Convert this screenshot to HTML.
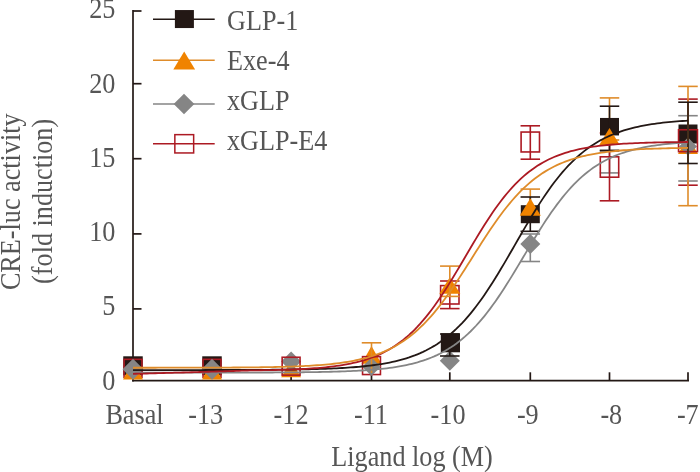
<!DOCTYPE html>
<html><head><meta charset="utf-8"><style>
html,body{margin:0;padding:0;background:#fff;width:700px;height:472px;overflow:hidden}
svg{display:block}
text{font-family:"Liberation Serif",serif;font-size:26.2px;fill:#565656}
</style></head><body>
<svg width="700" height="472" viewBox="0 0 700 472">
<line x1="133" y1="10" x2="133" y2="381.5" stroke="#231815" stroke-width="1.7"/>
<line x1="133" y1="11" x2="141.5" y2="11" stroke="#231815" stroke-width="1.7"/>
<line x1="133" y1="83.7" x2="141.5" y2="83.7" stroke="#231815" stroke-width="1.7"/>
<line x1="133" y1="158.7" x2="141.5" y2="158.7" stroke="#231815" stroke-width="1.7"/>
<line x1="133" y1="233.9" x2="141.5" y2="233.9" stroke="#231815" stroke-width="1.7"/>
<line x1="133" y1="308.9" x2="141.5" y2="308.9" stroke="#231815" stroke-width="1.7"/>
<line x1="132.2" y1="380.7" x2="689" y2="380.7" stroke="#231815" stroke-width="1.7"/>
<line x1="291.1" y1="372.3" x2="291.1" y2="380.7" stroke="#231815" stroke-width="1.7"/>
<line x1="371.5" y1="372.3" x2="371.5" y2="380.7" stroke="#231815" stroke-width="1.7"/>
<line x1="449.8" y1="372.3" x2="449.8" y2="380.7" stroke="#231815" stroke-width="1.7"/>
<line x1="530.3" y1="372.3" x2="530.3" y2="380.7" stroke="#231815" stroke-width="1.7"/>
<line x1="609.5" y1="372.3" x2="609.5" y2="380.7" stroke="#231815" stroke-width="1.7"/>
<line x1="688" y1="372.3" x2="688" y2="380.7" stroke="#231815" stroke-width="1.7"/>
<rect x="123.25" y="356.3" width="19.5" height="19" fill="#231815"/>
<rect x="124.05" y="359.35" width="17.9" height="17.9" fill="none" stroke="#AC1A23" stroke-width="1.6"/>
<polygon points="133,361 123.0,379.6 143.0,379.6" fill="#F08300"/>
<polygon points="133,358.8 143.5,369.3 133,379.8 122.5,369.3" fill="#858585"/>
<rect x="202.25" y="356.3" width="19.5" height="19" fill="#231815"/>
<rect x="203.05" y="359.35" width="17.9" height="17.9" fill="none" stroke="#AC1A23" stroke-width="1.6"/>
<polygon points="212,361 202.0,379.6 222.0,379.6" fill="#F08300"/>
<polygon points="212,358.8 222.5,369.3 212,379.8 201.5,369.3" fill="#858585"/>
<polygon points="291.1,361 281.1,377.2 301.1,377.2" fill="#F08300"/>
<polygon points="291.1,351.6 301.1,361.6 291.1,371.6 281.1,361.6" fill="#858585"/>
<rect x="282.15000000000003" y="357.25" width="17.9" height="17.9" fill="none" stroke="#AC1A23" stroke-width="1.6"/>
<polygon points="371.5,346 361.5,363.8 381.5,363.8" fill="#F08300"/>
<rect x="362.55" y="356.65000000000003" width="17.9" height="17.9" fill="none" stroke="#AC1A23" stroke-width="1.6"/>
<polygon points="371.5,357.5 380.8,366.8 371.5,376.1 362.2,366.8" fill="#858585"/>
<line x1="371.5" y1="342.8" x2="371.5" y2="373" stroke="#DF8C2A" stroke-width="1.6"/>
<line x1="361.75" y1="342.8" x2="381.25" y2="342.8" stroke="#DF8C2A" stroke-width="1.6"/>
<polygon points="449.8,350.7 459.8,360.7 449.8,370.7 439.8,360.7" fill="#858585"/>
<rect x="440.8" y="333.3" width="19.2" height="19" fill="#231815"/>
<line x1="449.8" y1="334" x2="449.8" y2="356" stroke="#231815" stroke-width="1.6"/>
<line x1="440.05" y1="334" x2="459.55" y2="334" stroke="#231815" stroke-width="1.6"/>
<line x1="440.05" y1="356" x2="459.55" y2="356" stroke="#231815" stroke-width="1.6"/>
<rect x="440.6" y="285.6" width="18.4" height="18.4" fill="none" stroke="#AC1A23" stroke-width="1.6"/>
<line x1="449.8" y1="281" x2="449.8" y2="308.6" stroke="#AC1A23" stroke-width="1.6"/>
<line x1="440.05" y1="281" x2="459.55" y2="281" stroke="#AC1A23" stroke-width="1.6"/>
<line x1="440.05" y1="308.6" x2="459.55" y2="308.6" stroke="#AC1A23" stroke-width="1.6"/>
<polygon points="449.8,277.2 439.3,293.7 460.3,293.7" fill="#F08300"/>
<line x1="449.8" y1="266.1" x2="449.8" y2="296.4" stroke="#DF8C2A" stroke-width="1.6"/>
<line x1="440.05" y1="266.1" x2="459.55" y2="266.1" stroke="#DF8C2A" stroke-width="1.6"/>
<line x1="440.05" y1="296.4" x2="459.55" y2="296.4" stroke="#DF8C2A" stroke-width="1.6"/>
<rect x="521.0999999999999" y="132.05" width="18.4" height="19.9" fill="none" stroke="#AC1A23" stroke-width="1.6"/>
<line x1="530.3" y1="125.8" x2="530.3" y2="159.2" stroke="#AC1A23" stroke-width="1.6"/>
<line x1="520.55" y1="125.8" x2="540.05" y2="125.8" stroke="#AC1A23" stroke-width="1.6"/>
<line x1="520.55" y1="159.2" x2="540.05" y2="159.2" stroke="#AC1A23" stroke-width="1.6"/>
<line x1="530.3" y1="234" x2="530.3" y2="261.5" stroke="#858585" stroke-width="1.6"/>
<line x1="520.55" y1="234" x2="540.05" y2="234" stroke="#858585" stroke-width="1.6"/>
<line x1="520.55" y1="261.5" x2="540.05" y2="261.5" stroke="#858585" stroke-width="1.6"/>
<polygon points="530.3,234.1 540.3,244.1 530.3,254.1 520.3,244.1" fill="#858585"/>
<line x1="530.3" y1="189.1" x2="530.3" y2="214" stroke="#DF8C2A" stroke-width="1.6"/>
<line x1="520.55" y1="189.1" x2="540.05" y2="189.1" stroke="#DF8C2A" stroke-width="1.6"/>
<line x1="520.55" y1="214" x2="540.05" y2="214" stroke="#DF8C2A" stroke-width="1.6"/>
<rect x="520.8" y="205.2" width="19" height="18" fill="#231815"/>
<line x1="530.3" y1="197" x2="530.3" y2="231.3" stroke="#231815" stroke-width="1.6"/>
<line x1="520.55" y1="197" x2="540.05" y2="197" stroke="#231815" stroke-width="1.6"/>
<line x1="520.55" y1="231.3" x2="540.05" y2="231.3" stroke="#231815" stroke-width="1.6"/>
<polygon points="530.3,198.3 519.8,215.7 540.8,215.7" fill="#F08300"/>
<line x1="609.5" y1="150" x2="609.5" y2="172.9" stroke="#858585" stroke-width="1.6"/>
<line x1="599.75" y1="150" x2="619.25" y2="150" stroke="#858585" stroke-width="1.6"/>
<line x1="599.75" y1="172.9" x2="619.25" y2="172.9" stroke="#858585" stroke-width="1.6"/>
<rect x="600.3" y="156.8" width="18.4" height="20.4" fill="none" stroke="#AC1A23" stroke-width="1.6"/>
<line x1="609.5" y1="133" x2="609.5" y2="200.8" stroke="#AC1A23" stroke-width="1.6"/>
<line x1="599.75" y1="133" x2="619.25" y2="133" stroke="#AC1A23" stroke-width="1.6"/>
<line x1="599.75" y1="200.8" x2="619.25" y2="200.8" stroke="#AC1A23" stroke-width="1.6"/>
<line x1="609.5" y1="97.9" x2="609.5" y2="140" stroke="#DF8C2A" stroke-width="1.6"/>
<line x1="599.75" y1="97.9" x2="619.25" y2="97.9" stroke="#DF8C2A" stroke-width="1.6"/>
<line x1="599.75" y1="140" x2="619.25" y2="140" stroke="#DF8C2A" stroke-width="1.6"/>
<rect x="600.0" y="117.95" width="19" height="17.5" fill="#231815"/>
<line x1="609.5" y1="106.2" x2="609.5" y2="150.8" stroke="#231815" stroke-width="1.6"/>
<line x1="599.75" y1="106.2" x2="619.25" y2="106.2" stroke="#231815" stroke-width="1.6"/>
<line x1="599.75" y1="150.8" x2="619.25" y2="150.8" stroke="#231815" stroke-width="1.6"/>
<polygon points="609.5,128 599.25,145 619.75,145" fill="#F08300"/>
<rect x="678.5" y="124.5" width="19" height="19" fill="#231815"/>
<polygon points="688,137 678.0,154 698.0,154" fill="#F08300"/>
<polygon points="688,137.5 697,146.5 688,155.5 679,146.5" fill="#858585"/>
<rect x="678.55" y="129.75" width="18.9" height="21.9" fill="none" stroke="#AC1A23" stroke-width="1.6"/>
<line x1="688" y1="99.1" x2="688" y2="185.2" stroke="#AC1A23" stroke-width="1.6"/>
<line x1="678.25" y1="99.1" x2="697.75" y2="99.1" stroke="#AC1A23" stroke-width="1.6"/>
<line x1="678.25" y1="185.2" x2="697.75" y2="185.2" stroke="#AC1A23" stroke-width="1.6"/>
<line x1="688" y1="115.7" x2="688" y2="181" stroke="#858585" stroke-width="1.6"/>
<line x1="678.25" y1="115.7" x2="697.75" y2="115.7" stroke="#858585" stroke-width="1.6"/>
<line x1="678.25" y1="181" x2="697.75" y2="181" stroke="#858585" stroke-width="1.6"/>
<line x1="688" y1="86.4" x2="688" y2="205.7" stroke="#DF8C2A" stroke-width="1.6"/>
<line x1="678.25" y1="86.4" x2="697.75" y2="86.4" stroke="#DF8C2A" stroke-width="1.6"/>
<line x1="678.25" y1="205.7" x2="697.75" y2="205.7" stroke="#DF8C2A" stroke-width="1.6"/>
<line x1="688" y1="102.2" x2="688" y2="163.5" stroke="#231815" stroke-width="1.6"/>
<line x1="678.25" y1="102.2" x2="697.75" y2="102.2" stroke="#231815" stroke-width="1.6"/>
<line x1="678.25" y1="163.5" x2="697.75" y2="163.5" stroke="#231815" stroke-width="1.6"/>
<path d="M133.00,372.64 L135.79,372.64 L138.58,372.64 L141.37,372.64 L144.16,372.64 L146.94,372.64 L149.73,372.64 L152.52,372.64 L155.31,372.64 L158.10,372.64 L160.89,372.64 L163.68,372.64 L166.47,372.64 L169.26,372.64 L172.05,372.64 L174.83,372.64 L177.62,372.64 L180.41,372.64 L183.20,372.64 L185.99,372.63 L188.78,372.63 L191.57,372.63 L194.36,372.63 L197.15,372.63 L199.93,372.63 L202.72,372.63 L205.51,372.62 L208.30,372.62 L211.09,372.62 L213.88,372.62 L216.67,372.61 L219.46,372.61 L222.25,372.61 L225.04,372.61 L227.82,372.60 L230.61,372.60 L233.40,372.59 L236.19,372.59 L238.98,372.59 L241.77,372.58 L244.56,372.57 L247.35,372.57 L250.14,372.56 L252.92,372.55 L255.71,372.55 L258.50,372.54 L261.29,372.53 L264.08,372.52 L266.87,372.51 L269.66,372.50 L272.45,372.48 L275.24,372.47 L278.03,372.46 L280.81,372.44 L283.60,372.42 L286.39,372.40 L289.18,372.38 L291.97,372.36 L294.76,372.34 L297.55,372.31 L300.34,372.28 L303.13,372.25 L305.91,372.22 L308.70,372.18 L311.49,372.14 L314.28,372.10 L317.07,372.05 L319.86,372.00 L322.65,371.95 L325.44,371.89 L328.23,371.83 L331.02,371.76 L333.80,371.69 L336.59,371.61 L339.38,371.52 L342.17,371.42 L344.96,371.32 L347.75,371.21 L350.54,371.09 L353.33,370.96 L356.12,370.82 L358.90,370.67 L361.69,370.51 L364.48,370.33 L367.27,370.14 L370.06,369.93 L372.85,369.70 L375.64,369.46 L378.43,369.20 L381.22,368.91 L384.01,368.60 L386.79,368.27 L389.58,367.91 L392.37,367.52 L395.16,367.10 L397.95,366.65 L400.74,366.16 L403.53,365.63 L406.32,365.06 L409.11,364.45 L411.89,363.79 L414.68,363.07 L417.47,362.31 L420.26,361.48 L423.05,360.59 L425.84,359.64 L428.63,358.61 L431.42,357.51 L434.21,356.33 L436.99,355.07 L439.78,353.71 L442.57,352.26 L445.36,350.71 L448.15,349.06 L450.94,347.30 L453.73,345.42 L456.52,343.42 L459.31,341.30 L462.10,339.05 L464.88,336.67 L467.67,334.15 L470.46,331.50 L473.25,328.70 L476.04,325.76 L478.83,322.67 L481.62,319.44 L484.41,316.06 L487.20,312.54 L489.98,308.88 L492.77,305.09 L495.56,301.16 L498.35,297.12 L501.14,292.96 L503.93,288.69 L506.72,284.32 L509.51,279.87 L512.30,275.35 L515.09,270.77 L517.87,266.14 L520.66,261.48 L523.45,256.80 L526.24,252.13 L529.03,247.47 L531.82,242.83 L534.61,238.24 L537.40,233.71 L540.19,229.25 L542.97,224.87 L545.76,220.59 L548.55,216.42 L551.34,212.35 L554.13,208.41 L556.92,204.60 L559.71,200.93 L562.50,197.39 L565.29,194.00 L568.08,190.74 L570.86,187.64 L573.65,184.68 L576.44,181.86 L579.23,179.18 L582.02,176.65 L584.81,174.25 L587.60,171.98 L590.39,169.85 L593.18,167.83 L595.96,165.94 L598.75,164.16 L601.54,162.50 L604.33,160.94 L607.12,159.47 L609.91,158.11 L612.70,156.83 L615.49,155.64 L618.28,154.53 L621.07,153.49 L623.85,152.53 L626.64,151.63 L629.43,150.80 L632.22,150.03 L635.01,149.31 L637.80,148.64 L640.59,148.02 L643.38,147.44 L646.17,146.91 L648.95,146.42 L651.74,145.96 L654.53,145.54 L657.32,145.14 L660.11,144.78 L662.90,144.44 L665.69,144.13 L668.48,143.84 L671.27,143.58 L674.06,143.33 L676.84,143.10 L679.63,142.89 L682.42,142.70 L685.21,142.52 L688.00,142.35" fill="none" stroke="#858585" stroke-width="1.8"/>
<path d="M133.00,370.06 L135.79,370.06 L138.58,370.06 L141.37,370.06 L144.16,370.06 L146.94,370.06 L149.73,370.06 L152.52,370.06 L155.31,370.06 L158.10,370.06 L160.89,370.06 L163.68,370.05 L166.47,370.05 L169.26,370.05 L172.05,370.05 L174.83,370.05 L177.62,370.05 L180.41,370.05 L183.20,370.04 L185.99,370.04 L188.78,370.04 L191.57,370.04 L194.36,370.03 L197.15,370.03 L199.93,370.03 L202.72,370.03 L205.51,370.02 L208.30,370.02 L211.09,370.01 L213.88,370.01 L216.67,370.00 L219.46,370.00 L222.25,369.99 L225.04,369.99 L227.82,369.98 L230.61,369.97 L233.40,369.97 L236.19,369.96 L238.98,369.95 L241.77,369.94 L244.56,369.93 L247.35,369.92 L250.14,369.91 L252.92,369.89 L255.71,369.88 L258.50,369.86 L261.29,369.85 L264.08,369.83 L266.87,369.81 L269.66,369.79 L272.45,369.76 L275.24,369.74 L278.03,369.71 L280.81,369.69 L283.60,369.66 L286.39,369.62 L289.18,369.59 L291.97,369.55 L294.76,369.51 L297.55,369.46 L300.34,369.41 L303.13,369.36 L305.91,369.30 L308.70,369.24 L311.49,369.17 L314.28,369.10 L317.07,369.03 L319.86,368.94 L322.65,368.85 L325.44,368.76 L328.23,368.65 L331.02,368.54 L333.80,368.42 L336.59,368.28 L339.38,368.14 L342.17,367.99 L344.96,367.82 L347.75,367.64 L350.54,367.45 L353.33,367.25 L356.12,367.02 L358.90,366.78 L361.69,366.52 L364.48,366.24 L367.27,365.94 L370.06,365.61 L372.85,365.26 L375.64,364.88 L378.43,364.48 L381.22,364.04 L384.01,363.57 L386.79,363.06 L389.58,362.52 L392.37,361.93 L395.16,361.30 L397.95,360.63 L400.74,359.90 L403.53,359.12 L406.32,358.28 L409.11,357.39 L411.89,356.43 L414.68,355.40 L417.47,354.29 L420.26,353.11 L423.05,351.85 L425.84,350.51 L428.63,349.07 L431.42,347.54 L434.21,345.90 L436.99,344.16 L439.78,342.32 L442.57,340.35 L445.36,338.27 L448.15,336.07 L450.94,333.74 L453.73,331.27 L456.52,328.68 L459.31,325.94 L462.10,323.06 L464.88,320.04 L467.67,316.88 L470.46,313.58 L473.25,310.13 L476.04,306.53 L478.83,302.80 L481.62,298.94 L484.41,294.94 L487.20,290.81 L489.98,286.57 L492.77,282.21 L495.56,277.75 L498.35,273.20 L501.14,268.57 L503.93,263.87 L506.72,259.11 L509.51,254.31 L512.30,249.48 L515.09,244.64 L517.87,239.79 L520.66,234.96 L523.45,230.15 L526.24,225.39 L529.03,220.68 L531.82,216.03 L534.61,211.47 L537.40,207.00 L540.19,202.63 L542.97,198.37 L545.76,194.23 L548.55,190.22 L551.34,186.33 L554.13,182.58 L556.92,178.97 L559.71,175.50 L562.50,172.18 L565.29,169.00 L568.08,165.96 L570.86,163.06 L573.65,160.31 L576.44,157.69 L579.23,155.21 L582.02,152.86 L584.81,150.64 L587.60,148.54 L590.39,146.57 L593.18,144.70 L595.96,142.95 L598.75,141.30 L601.54,139.76 L604.33,138.31 L607.12,136.95 L609.91,135.68 L612.70,134.49 L615.49,133.38 L618.28,132.34 L621.07,131.37 L623.85,130.46 L626.64,129.62 L629.43,128.83 L632.22,128.10 L635.01,127.41 L637.80,126.78 L640.59,126.19 L643.38,125.64 L646.17,125.12 L648.95,124.65 L651.74,124.21 L654.53,123.80 L657.32,123.42 L660.11,123.06 L662.90,122.73 L665.69,122.43 L668.48,122.14 L671.27,121.88 L674.06,121.64 L676.84,121.41 L679.63,121.20 L682.42,121.01 L685.21,120.83 L688.00,120.66" fill="none" stroke="#231815" stroke-width="1.8"/>
<path d="M133.00,373.85 L135.79,373.77 L138.58,373.70 L141.37,373.63 L144.16,373.55 L146.94,373.48 L149.73,373.40 L152.52,373.33 L155.31,373.25 L158.10,373.17 L160.89,373.10 L163.68,373.02 L166.47,372.95 L169.26,372.87 L172.05,372.79 L174.83,372.72 L177.62,372.64 L180.41,372.56 L183.20,372.49 L185.99,372.41 L188.78,372.33 L191.57,372.25 L194.36,372.17 L197.15,372.09 L199.93,372.01 L202.72,371.93 L205.51,371.85 L208.30,371.77 L211.09,371.68 L213.88,371.60 L216.67,371.52 L219.46,371.43 L222.25,371.34 L225.04,371.26 L227.82,371.17 L230.61,371.08 L233.40,370.99 L236.19,370.89 L238.98,370.80 L241.77,370.70 L244.56,370.60 L247.35,370.50 L250.14,370.40 L252.92,370.37 L255.71,370.33 L258.50,370.30 L261.29,370.26 L264.08,370.21 L266.87,370.16 L269.66,370.11 L272.45,370.05 L275.24,369.99 L278.03,369.92 L280.81,369.85 L283.60,369.77 L286.39,369.68 L289.18,369.58 L291.97,369.48 L294.76,369.37 L297.55,369.25 L300.34,369.12 L303.13,368.98 L305.91,368.82 L308.70,368.65 L311.49,368.47 L314.28,368.27 L317.07,368.06 L319.86,367.83 L322.65,367.58 L325.44,367.30 L328.23,367.01 L331.02,366.69 L333.80,366.34 L336.59,365.96 L339.38,365.56 L342.17,365.12 L344.96,364.64 L347.75,364.12 L350.54,363.57 L353.33,362.96 L356.12,362.31 L358.90,361.61 L361.69,360.85 L364.48,360.03 L367.27,359.15 L370.06,358.19 L372.85,357.17 L375.64,356.07 L378.43,354.88 L381.22,353.61 L384.01,352.24 L386.79,350.78 L389.58,349.21 L392.37,347.53 L395.16,345.74 L397.95,343.82 L400.74,341.79 L403.53,339.62 L406.32,337.31 L409.11,334.87 L411.89,332.28 L414.68,329.55 L417.47,326.67 L420.26,323.63 L423.05,320.45 L425.84,317.11 L428.63,313.62 L431.42,309.99 L434.21,306.21 L436.99,302.29 L439.78,298.24 L442.57,294.06 L445.36,289.77 L448.15,285.37 L450.94,280.87 L453.73,276.30 L456.52,271.66 L459.31,266.96 L462.10,262.23 L464.88,257.48 L467.67,252.73 L470.46,247.98 L473.25,243.27 L476.04,238.60 L478.83,233.99 L481.62,229.45 L484.41,225.00 L487.20,220.65 L489.98,216.41 L492.77,212.29 L495.56,208.30 L498.35,204.44 L501.14,200.73 L503.93,197.17 L506.72,193.75 L509.51,190.48 L512.30,187.37 L515.09,184.41 L517.87,181.60 L520.66,178.93 L523.45,176.42 L526.24,174.04 L529.03,171.80 L531.82,169.69 L534.61,167.71 L537.40,165.86 L540.19,164.12 L542.97,162.49 L545.76,160.98 L548.55,159.56 L551.34,158.24 L554.13,157.01 L556.92,155.86 L559.71,154.79 L562.50,153.81 L565.29,152.89 L568.08,152.03 L570.86,151.24 L573.65,150.51 L576.44,149.83 L579.23,149.20 L582.02,148.62 L584.81,148.08 L587.60,147.59 L590.39,147.13 L593.18,146.70 L595.96,146.31 L598.75,145.95 L601.54,145.62 L604.33,145.31 L607.12,145.02 L609.91,144.76 L612.70,144.52 L615.49,144.29 L618.28,144.09 L621.07,143.90 L623.85,143.72 L626.64,143.56 L629.43,143.41 L632.22,143.28 L635.01,143.15 L637.80,143.03 L640.59,142.93 L643.38,142.83 L646.17,142.74 L648.95,142.65 L651.74,142.58 L654.53,142.50 L657.32,142.44 L660.11,142.38 L662.90,142.32 L665.69,142.27 L668.48,142.23 L671.27,142.18 L674.06,142.14 L676.84,142.11 L679.63,142.07 L682.42,142.04 L685.21,142.01 L688.00,141.99" fill="none" stroke="#AC1A23" stroke-width="1.8"/>
<path d="M133.00,367.74 L135.79,367.74 L138.58,367.73 L141.37,367.73 L144.16,367.73 L146.94,367.73 L149.73,367.73 L152.52,367.73 L155.31,367.73 L158.10,367.72 L160.89,367.72 L163.68,367.72 L166.47,367.72 L169.26,367.71 L172.05,367.71 L174.83,367.71 L177.62,367.70 L180.41,367.70 L183.20,367.70 L185.99,367.69 L188.78,367.69 L191.57,367.68 L194.36,367.68 L197.15,367.67 L199.93,367.66 L202.72,367.66 L205.51,367.65 L208.30,367.64 L211.09,367.63 L213.88,367.62 L216.67,367.61 L219.46,367.60 L222.25,367.59 L225.04,367.57 L227.82,367.56 L230.61,367.54 L233.40,367.52 L236.19,367.50 L238.98,367.48 L241.77,367.46 L244.56,367.44 L247.35,367.41 L250.14,367.38 L252.92,367.35 L255.71,367.32 L258.50,367.28 L261.29,367.24 L264.08,367.20 L266.87,367.16 L269.66,367.11 L272.45,367.05 L275.24,367.00 L278.03,366.93 L280.81,366.87 L283.60,366.79 L286.39,366.71 L289.18,366.63 L291.97,366.53 L294.76,366.43 L297.55,366.32 L300.34,366.20 L303.13,366.08 L305.91,365.94 L308.70,365.79 L311.49,365.62 L314.28,365.45 L317.07,365.26 L319.86,365.05 L322.65,364.83 L325.44,364.59 L328.23,364.33 L331.02,364.04 L333.80,363.74 L336.59,363.41 L339.38,363.06 L342.17,362.67 L344.96,362.26 L347.75,361.81 L350.54,361.33 L353.33,360.81 L356.12,360.25 L358.90,359.64 L361.69,358.99 L364.48,358.29 L367.27,357.54 L370.06,356.72 L372.85,355.85 L375.64,354.91 L378.43,353.91 L381.22,352.83 L384.01,351.67 L386.79,350.43 L389.58,349.11 L392.37,347.69 L395.16,346.17 L397.95,344.56 L400.74,342.84 L403.53,341.01 L406.32,339.06 L409.11,336.99 L411.89,334.81 L414.68,332.49 L417.47,330.05 L420.26,327.47 L423.05,324.76 L425.84,321.91 L428.63,318.92 L431.42,315.80 L434.21,312.54 L436.99,309.15 L439.78,305.63 L442.57,301.99 L445.36,298.22 L448.15,294.34 L450.94,290.36 L453.73,286.28 L456.52,282.11 L459.31,277.87 L462.10,273.57 L464.88,269.21 L467.67,264.82 L470.46,260.40 L473.25,255.98 L476.04,251.56 L478.83,247.16 L481.62,242.80 L484.41,238.48 L487.20,234.22 L489.98,230.03 L492.77,225.93 L495.56,221.92 L498.35,218.01 L501.14,214.22 L503.93,210.54 L506.72,206.99 L509.51,203.56 L512.30,200.27 L515.09,197.12 L517.87,194.10 L520.66,191.21 L523.45,188.46 L526.24,185.85 L529.03,183.37 L531.82,181.03 L534.61,178.80 L537.40,176.71 L540.19,174.73 L542.97,172.87 L545.76,171.12 L548.55,169.48 L551.34,167.94 L554.13,166.50 L556.92,165.15 L559.71,163.89 L562.50,162.71 L565.29,161.61 L568.08,160.59 L570.86,159.63 L573.65,158.74 L576.44,157.92 L579.23,157.15 L582.02,156.43 L584.81,155.77 L587.60,155.15 L590.39,154.58 L593.18,154.05 L595.96,153.56 L598.75,153.10 L601.54,152.68 L604.33,152.29 L607.12,151.93 L609.91,151.59 L612.70,151.28 L615.49,150.99 L618.28,150.73 L621.07,150.48 L623.85,150.25 L626.64,150.04 L629.43,149.85 L632.22,149.67 L635.01,149.50 L637.80,149.35 L640.59,149.21 L643.38,149.08 L646.17,148.96 L648.95,148.85 L651.74,148.74 L654.53,148.65 L657.32,148.56 L660.11,148.48 L662.90,148.40 L665.69,148.33 L668.48,148.27 L671.27,148.21 L674.06,148.16 L676.84,148.10 L679.63,148.06 L682.42,148.02 L685.21,147.98 L688.00,147.94" fill="none" stroke="#DF8C2A" stroke-width="1.8"/>
<line x1="153" y1="19.2" x2="214.7" y2="19.2" stroke="#231815" stroke-width="1.6"/>
<rect x="174.9" y="10.05" width="19" height="18" fill="#231815"/>
<line x1="153" y1="60.3" x2="214.7" y2="60.3" stroke="#DF8C2A" stroke-width="1.6"/>
<polygon points="184.2,51.4 173.29999999999998,69.5 195.1,69.5" fill="#F08300"/>
<line x1="153" y1="104" x2="214.7" y2="104" stroke="#858585" stroke-width="1.6"/>
<polygon points="184,93.7 194.3,104 184,114.3 173.7,104" fill="#858585"/>
<line x1="153" y1="143.8" x2="214.7" y2="143.8" stroke="#AC1A23" stroke-width="1.6"/>
<rect x="174.85" y="134.65" width="18.8" height="18.3" fill="none" stroke="#AC1A23" stroke-width="1.5"/>
<g style="will-change:transform">
<text transform="translate(227,29.8) scale(1,1.09)" text-anchor="start">GLP-1</text>
<text transform="translate(227,69.5) scale(1,1.09)" text-anchor="start">Exe-4</text>
<text transform="translate(227,109.5) scale(1,1.09)" text-anchor="start">xGLP</text>
<text transform="translate(227,149.5) scale(1,1.09)" text-anchor="start">xGLP-E4</text>
<text transform="translate(115.4,18.4) scale(1,1.09)" text-anchor="end">25</text>
<text transform="translate(115.4,92.5) scale(1,1.09)" text-anchor="end">20</text>
<text transform="translate(115.4,166.7) scale(1,1.09)" text-anchor="end">15</text>
<text transform="translate(115.4,241.4) scale(1,1.09)" text-anchor="end">10</text>
<text transform="translate(115.4,315.2) scale(1,1.09)" text-anchor="end">5</text>
<text transform="translate(115.4,389.7) scale(1,1.09)" text-anchor="end">0</text>
<text transform="translate(105.4,423.6) scale(1,1.09)" text-anchor="start">Basal</text>
<text transform="translate(188.2,423.7) scale(1,1.09)" text-anchor="start">-13</text>
<text transform="translate(273.6,423.7) scale(1,1.09)" text-anchor="start">-12</text>
<text transform="translate(354,423.7) scale(1,1.09)" text-anchor="start">-11</text>
<text transform="translate(430.6,423.7) scale(1,1.09)" text-anchor="start">-10</text>
<text transform="translate(516.9,423.7) scale(1,1.09)" text-anchor="start">-9</text>
<text transform="translate(600.4,423.7) scale(1,1.09)" text-anchor="start">-8</text>
<text transform="translate(676.9,423.7) scale(1,1.09)" text-anchor="start">-7</text>
<text transform="translate(331.3,466.1) scale(1,1.09)" text-anchor="start">Ligand log (M)</text>
<text transform="translate(19.6,290.1) rotate(-90) scale(1,1.09)" text-anchor="start">CRE-luc activity</text>
<text transform="translate(52,283.9) rotate(-90) scale(1,1.09)" text-anchor="start">(fold induction)</text>
</g>
</svg>
</body></html>
